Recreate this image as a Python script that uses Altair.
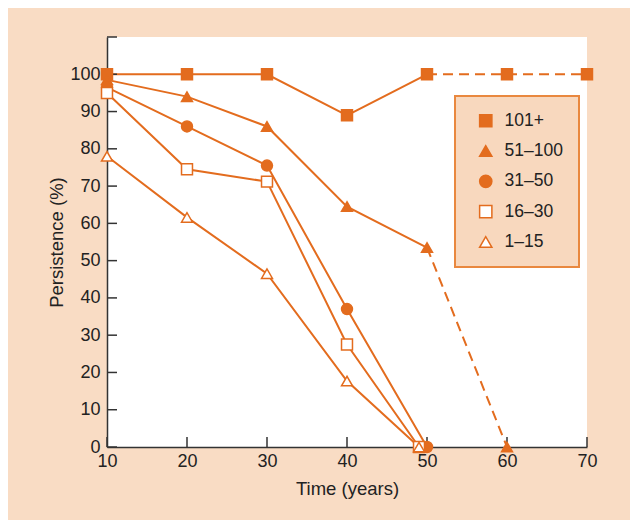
import altair as alt
import pandas as pd

ORANGE = "#E36C1E"
BG = "#F9DCC4"

groups = ["101+", "51–100", "31–50", "16–30", "1–15"]
shapes = ["square", "triangle-up", "circle", "square", "triangle-up"]
fills = [ORANGE, ORANGE, ORANGE, "white", "white"]

# solid segments (x = years, y = persistence %)
solid_x = {
    "101+": [10, 20, 30, 40, 50],
    "51–100": [10, 20, 30, 40, 50],
    "31–50": [10, 20, 30, 40, 50],
    "16–30": [10, 20, 30, 40, 49],
    "1–15": [10, 20, 30, 40, 49],
}
solid_y = {
    "101+": [100, 100, 100, 89, 100],
    "51–100": [98.5, 94, 86, 64.5, 53.5],
    "31–50": [96.5, 86, 75.5, 37, 0],
    "16–30": [95, 74.5, 71.2, 27.5, 0],
    "1–15": [78, 61.6, 46.5, 17.7, 0],
}
# dashed extensions
dash_x = {"101+": [50, 60, 70], "51–100": [50, 60]}
dash_y = {"101+": [100, 100, 100], "51–100": [53.5, 0]}

y_ticks = [0, 10, 20, 30, 40, 50, 60, 70, 80, 90, 100, 110]
x_ticks = [10, 20, 30, 40, 50, 60, 70]

rows = []
for g in groups:
    for x, y in zip(solid_x[g], solid_y[g]):
        rows.append({"group": g, "x": x, "y": y})
solid = pd.DataFrame(rows)

rows = []
for g in dash_x:
    for x, y in zip(dash_x[g], dash_y[g]):
        rows.append({"group": g, "x": x, "y": y})
dashed = pd.DataFrame(rows)

pts = pd.concat([solid, dashed]).drop_duplicates(subset=["group", "x", "y"])

FONT = "Liberation Sans"
axis_common = dict(
    ticks=False, grid=False, labelOverlap=False, labelFlush=False,
    domainColor="#333", domainWidth=1.5,
    labelFont=FONT, labelFontSize=18, labelColor="#222",
    titleFont=FONT, titleFontSize=18.5, titleFontWeight="normal", titleColor="#222",
)

xscale = alt.Scale(domain=[10, 70], nice=False, zero=False)
yscale = alt.Scale(domain=[0, 110], nice=False)

xenc = alt.X("x:Q", scale=xscale, title="Time (years)",
             axis=alt.Axis(values=x_ticks, labelPadding=5, titlePadding=9, **axis_common))
yenc = alt.Y("y:Q", scale=yscale, title="Persistence (%)",
             axis=alt.Axis(values=y_ticks, labelPadding=7, titlePadding=3,
                           labelExpr="datum.value > 100 ? '' : datum.label", **axis_common))

lines = alt.Chart(solid).mark_line(color=ORANGE, strokeWidth=2).encode(
    x=xenc, y=yenc, detail="group:N")

dlines = alt.Chart(dashed).mark_line(color=ORANGE, strokeWidth=2, strokeDash=[10, 6]).encode(
    x=xenc, y=yenc, detail="group:N")

legend = alt.Legend(
    title=None, orient="none", legendX=348, legendY=59,
    fillColor="#F8D8BE", strokeColor="#E9883F",
    padding=16, labelFontSize=17.5, labelFont=FONT, labelColor="#222",
    symbolSize=150, symbolStrokeWidth=1.5,
    rowPadding=11.3, labelOffset=10, symbolOffset=6,
)

points = alt.Chart(pts).mark_point(filled=True, strokeWidth=1.5,
                                   opacity=1, size=120).encode(
    x=xenc, y=yenc,
    shape=alt.Shape("group:N", scale=alt.Scale(domain=groups, range=shapes), legend=legend),
    fill=alt.Fill("group:N", scale=alt.Scale(domain=groups, range=fills), legend=legend),
    stroke=alt.Stroke("group:N", scale=alt.Scale(domain=groups, range=[ORANGE] * 5), legend=legend),
)

ytick_df = pd.DataFrame({"y": y_ticks})
xtick_df = pd.DataFrame({"x": x_ticks})

yt = alt.Chart(ytick_df).mark_rule(color="#333", strokeWidth=1.5).encode(
    y=yenc, x=alt.value(0), x2=alt.value(10))
xt = alt.Chart(xtick_df).mark_rule(color="#333", strokeWidth=1.5).encode(
    x=xenc, y=alt.value(410), y2=alt.value(400))

chart = alt.layer(lines, dlines, yt, xt, points).properties(
    width=480, height=410,
    autosize="none",
    padding={"left": 99, "top": 29, "right": 43, "bottom": 73},
    background=BG,
).configure_view(stroke=None, fill="white").configure_legend(
    strokeWidth=2
).configure_axis(labelOverlap=False)

chart.save("out.html", embed_options={"renderer": "svg", "actions": False})
